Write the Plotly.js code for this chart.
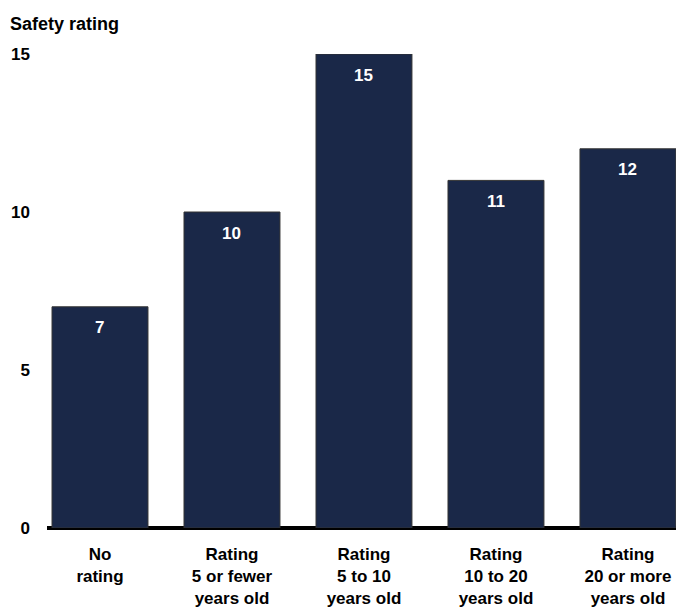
<!DOCTYPE html>
<html>
<head>
<meta charset="utf-8">
<script src="https://cdn.plot.ly/plotly-3.0.1.min.js"></script>
<style>html,body{margin:0;padding:0;background:#fff;}#chart{width:679px;height:608px;}</style>
</head>
<body>
<div id="chart"></div>
<script>
var categories = ["No<br>rating", "Rating<br>5 or fewer<br>years old", "Rating<br>5 to 10<br>years old", "Rating<br>10 to 20<br>years old", "Rating<br>20 or more<br>years old"];
var values = [7, 10, 15, 11, 12];
var yTicks = [0, 5, 10, 15];
var yTitle = "Safety rating";

var font = "Liberation Sans, Arial, sans-serif";
var trace = {
  type: "bar",
  x: categories,
  y: values,
  marker: {color: "#1a2848", line: {color: "#333333", width: 1}},
  width: 0.727,
  hoverinfo: "none"
};
var annotations = categories.map(function(c, i) {
  return {x: c, y: values[i], xref: "x", yref: "y", text: String(values[i]), showarrow: false,
    yanchor: "middle", yshift: -21, font: {family: font, size: 17, color: "#ffffff", weight: "bold"}};
});
annotations.push({xref: "paper", yref: "paper", x: -0.062, y: 1.0, xanchor: "left", yanchor: "bottom",
  yshift: 18, text: yTitle, showarrow: false, font: {family: font, size: 18, color: "#000000", weight: "bold"}});
var layout = {
  width: 679, height: 608,
  margin: {l: 47, r: 3, t: 54, b: 80},
  paper_bgcolor: "#ffffff", plot_bgcolor: "#ffffff",
  showlegend: false,
  bargap: 0.273,
  xaxis: {
    range: [-0.4015, 4.364],
    showline: false, zeroline: false, showgrid: false,
    ticks: "", ticklabelstandoff: 14,
    tickfont: {family: font, size: 17, color: "#000000", weight: "bold"},
    fixedrange: true
  },
  yaxis: {
    range: [0, 15], tickvals: yTicks, ticktext: yTicks.map(String),
    showgrid: false, zeroline: true, zerolinecolor: "#000000", zerolinewidth: 4,
    showline: false, ticks: "", ticklabelstandoff: 16,
    tickfont: {family: font, size: 17, color: "#000000", weight: "bold"},
    fixedrange: true
  },
  annotations: annotations
};
Plotly.newPlot("chart", [trace], layout, {displayModeBar: false, staticPlot: true});
</script>
</body>
</html>
